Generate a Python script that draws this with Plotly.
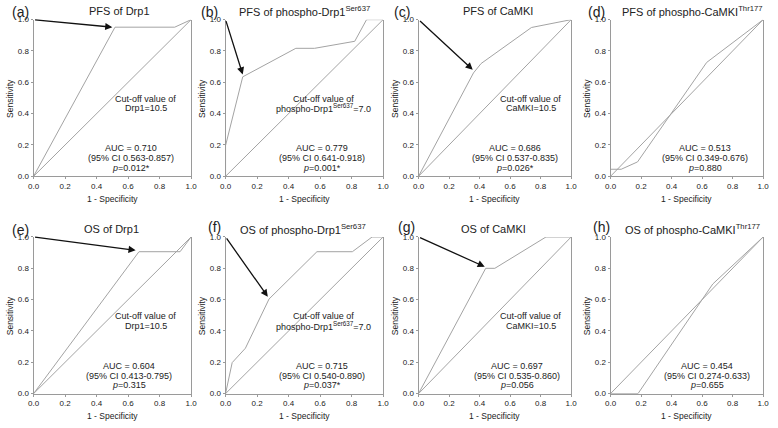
import plotly.graph_objects as go

# ---------------- data ----------------
panel_letters = ["(a)", "(b)", "(c)", "(d)", "(e)", "(f)", "(g)", "(h)"]
panel_titles = [
    "PFS of Drp1", "PFS of phospho-Drp1<sup>Ser637</sup>", "PFS of CaMKI",
    "PFS of phospho-CaMKI<sup>Thr177</sup>",
    "OS of Drp1", "OS of phospho-Drp1<sup>Ser637</sup>", "OS of CaMKI",
    "OS of phospho-CaMKI<sup>Thr177</sup>",
]

# ROC curves: 1 - specificity (fpr) and sensitivity (tpr)
pfs_drp1_fpr = [0, 0.517, 0.896, 1.0]
pfs_drp1_tpr = [0, 0.952, 0.952, 1.0]
pfs_pdrp1_fpr = [0, 0, 0.109, 0.446, 0.565, 0.82, 0.895, 1.0]
pfs_pdrp1_tpr = [0, 0.196, 0.635, 0.817, 0.817, 0.862, 1.0, 1.0]
pfs_camki_fpr = [0, 0.36, 0.41, 0.74, 1.0]
pfs_camki_tpr = [0, 0.66, 0.72, 0.95, 1.0]
pfs_pcamki_fpr = [0, 0, 0.07, 0.177, 0.63, 1.0]
pfs_pcamki_tpr = [0, 0.045, 0.045, 0.092, 0.727, 1.0]
os_drp1_fpr = [0, 0.669, 0.93, 1.0]
os_drp1_tpr = [0, 0.906, 0.906, 1.0]
os_pdrp1_fpr = [0, 0.042, 0.126, 0.276, 0.58, 0.805, 0.93, 1.0]
os_pdrp1_tpr = [0, 0.198, 0.29, 0.604, 0.906, 0.906, 1.0, 1.0]
os_camki_fpr = [0, 0.44, 0.5, 0.835, 1.0]
os_camki_tpr = [0, 0.8, 0.8, 1.0, 1.0]
os_pcamki_fpr = [0, 0.18, 0.67, 1.0]
os_pcamki_tpr = [0, 0, 0.70, 1.0]

roc_fpr = [pfs_drp1_fpr, pfs_pdrp1_fpr, pfs_camki_fpr, pfs_pcamki_fpr,
           os_drp1_fpr, os_pdrp1_fpr, os_camki_fpr, os_pcamki_fpr]
roc_tpr = [pfs_drp1_tpr, pfs_pdrp1_tpr, pfs_camki_tpr, pfs_pcamki_tpr,
           os_drp1_tpr, os_pdrp1_tpr, os_camki_tpr, os_pcamki_tpr]

# cut-off point (arrow target), None where no arrow
cutoff_fpr = [0.50, 0.109, 0.355, None, 0.648, 0.268, 0.434, None]
cutoff_tpr = [0.952, 0.65, 0.68, None, 0.915, 0.619, 0.81, None]
cutoff_marker = ["Drp1", "phospho-Drp1<sup>Ser637</sup>", "CaMKI", None,
                 "Drp1", "phospho-Drp1<sup>Ser637</sup>", "CaMKI", None]
cutoff_value = ["10.5", "7.0", "10.5", None, "10.5", "7.0", "10.5", None]
auc_values = ["0.710", "0.779", "0.686", "0.513", "0.604", "0.715", "0.697", "0.454"]
ci_values = ["0.563-0.857", "0.641-0.918", "0.537-0.835", "0.349-0.676",
             "0.413-0.795", "0.540-0.890", "0.535-0.860", "0.274-0.633"]
p_values = ["0.012*", "0.001*", "0.026*", "0.880", "0.315", "0.037*", "0.056", "0.655"]

tick_vals = [0.0, 0.2, 0.4, 0.6, 0.8, 1.0]
tick_text = ["0.0", "0.2", "0.4", "0.6", "0.8", "1.0"]

# ---------------- layout geometry (pixels) ----------------
W, H = 778, 428
col_px = [(28, 188), (223, 383), (419, 574), (614, 769)]
row_px = [(16, 176), (238, 398)]
letter_pos = [(15, 8), (207, 8), (402, 8), (600, 8),
              (15, 231), (212, 228), (407, 228), (605, 228)]
title_pos = [(115, 7), (303, 7), (500, 7), (697, 7),
             (107, 230), (302, 230), (495, 230), (697, 230)]
cut_x = [142, 322, 533, None, 142, 322, 533, None]
auc_x = [127, 321, 517, 710, 125, 321, 519, 712]
cut_dy = [81, 90.5]
auc_dy = [131.5, 141.5, 151.5]

LINE_C = "#a3a3a3"
AXIS_C = "#9a9a9a"
TEXT_C = "#222222"
FONT = "Liberation Sans, Arial, sans-serif"


def px_x(v):
    return v / W


def px_y(v):
    return 1 - v / H


def txt(x, y, s, size=9, **kw):
    d = dict(x=px_x(x), y=px_y(y), xref="paper", yref="paper", text=s,
             showarrow=False, font=dict(size=size, color=TEXT_C, family=FONT),
             xanchor="center", yanchor="middle")
    d.update(kw)
    return d


fig = go.Figure()
annotations = []
layout_axes = {}

for i in range(8):
    r, c = divmod(i, 4)
    x0, x1 = col_px[c]
    ytop, ybot = row_px[r]
    xa = "xaxis" if i == 0 else f"xaxis{i+1}"
    ya = "yaxis" if i == 0 else f"yaxis{i+1}"
    xr = "x" if i == 0 else f"x{i+1}"
    yr = "y" if i == 0 else f"y{i+1}"
    common = dict(
        range=[0, 1], tickvals=tick_vals, ticktext=tick_text, ticks="outside",
        ticklen=2, tickcolor=AXIS_C, showline=True, linecolor=AXIS_C, linewidth=1,
        showgrid=False, zeroline=False,
        tickfont=dict(size=8, color=TEXT_C, family=FONT), fixedrange=True,
    )
    layout_axes[xa] = dict(domain=[x0 / W, x1 / W], anchor=yr, mirror=False, **common)
    layout_axes[ya] = dict(domain=[1 - ybot / H, 1 - ytop / H], anchor=xr, mirror=True, **common)

    # diagonal reference line
    fig.add_trace(go.Scatter(x=[0, 1], y=[0, 1], mode="lines", xaxis=xr, yaxis=yr,
                             line=dict(color=LINE_C, width=1), showlegend=False,
                             hoverinfo="skip"))
    # ROC curve
    fig.add_trace(go.Scatter(x=roc_fpr[i], y=roc_tpr[i], mode="lines", xaxis=xr, yaxis=yr,
                             line=dict(color=LINE_C, width=1), showlegend=False))
    # arrow to cut-off
    if cutoff_fpr[i] is not None:
        annotations.append(dict(
            x=cutoff_fpr[i], y=cutoff_tpr[i], xref=xr, yref=yr,
            ax=0, ay=1, axref=xr, ayref=yr, text="", showarrow=True,
            arrowhead=2, arrowsize=1.1, arrowwidth=1.3, arrowcolor="#111111",
        ))
        annotations.append(txt(cut_x[i], ytop + cut_dy[0], "Cut-off value of"))
        annotations.append(txt(cut_x[i], ytop + cut_dy[1],
                               f"{cutoff_marker[i]}={cutoff_value[i]}"))
    annotations.append(txt(auc_x[i], ytop + auc_dy[0], f"AUC = {auc_values[i]}"))
    annotations.append(txt(auc_x[i], ytop + auc_dy[1], f"(95% CI {ci_values[i]})"))
    annotations.append(txt(auc_x[i], ytop + auc_dy[2], f"<i>p</i>={p_values[i]}"))

    # panel letter and title
    lx, ly = letter_pos[i]
    annotations.append(txt(lx, ly, panel_letters[i], size=14))
    tx, ty = title_pos[i]
    annotations.append(txt(tx, ty, panel_titles[i], size=11))
    # axis titles
    annotations.append(txt((x0 + x1) / 2, ybot + 23, "1 - Specificity", size=8.5))
    annotations.append(txt(x0 - 24, (ytop + ybot) / 2, "Sensitivity", size=8.5,
                           textangle=-90))

fig.update_layout(
    width=W, height=H, margin=dict(l=0, r=0, t=0, b=0),
    paper_bgcolor="white", plot_bgcolor="white",
    annotations=annotations, showlegend=False, **layout_axes,
)

fig.write_html("out.html", include_plotlyjs=True,
               config={"displayModeBar": False},
               post_script="document.body.style.margin='0';document.body.style.overflow='hidden';")
